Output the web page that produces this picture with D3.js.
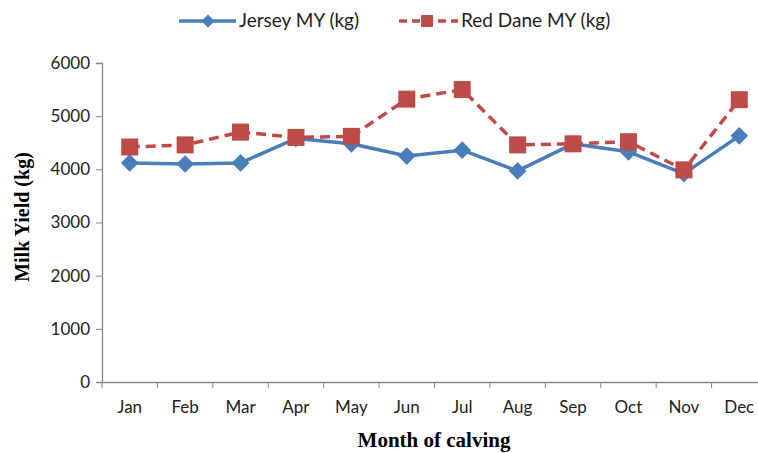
<!DOCTYPE html>
<html>
<head>
<meta charset="utf-8">
<script src="https://cdn.jsdelivr.net/npm/d3@7"></script>
<style>
  body { margin: 0; background: #fff; }
  svg { display: block; }
</style>
</head>
<body>
<script>
const months = ["Jan","Feb","Mar","Apr","May","Jun","Jul","Aug","Sep","Oct","Nov","Dec"];
const jersey = [4120, 4100, 4120, 4580, 4480, 4250, 4360, 3970, 4480, 4330, 3920, 4630];
const redDane = [4420, 4460, 4700, 4600, 4620, 5320, 5500, 4460, 4480, 4520, 3990, 5310];
const yTicks = [0, 1000, 2000, 3000, 4000, 5000, 6000];

const width = 758, height = 453;
const blue = "#4a7ebb", red = "#be4b48";
const font = "Lato, 'Open Sans', sans-serif";

const svg = d3.select("body").append("svg")
  .attr("width", width)
  .attr("height", height);

// scales
const x = d3.scaleBand().domain(months).range([102, 767]);
const y = d3.scaleLinear().domain([0, 6000]).range([382, 63]);

// y axis
const yAxis = svg.append("g")
  .attr("transform", "translate(102,0)")
  .call(d3.axisLeft(y).tickValues(yTicks).tickFormat(d3.format("d")).tickSize(6).tickPadding(6));
yAxis.selectAll("text").style("font-family", font).style("font-size", "17px").attr("fill", "#222");

// x axis
const xAxis = svg.append("g")
  .attr("transform", "translate(0,382)")
  .call(d3.axisBottom(x).tickSize(0).tickPadding(19));
xAxis.selectAll("text").style("font-family", font).style("font-size", "17px").attr("fill", "#222");
// band boundary ticks
xAxis.selectAll(".bt")
  .data(months)
  .enter().append("line")
  .attr("x1", d => x(d)).attr("x2", d => x(d))
  .attr("y1", 0).attr("y2", 6)
  .attr("stroke", "#888");

svg.selectAll(".domain").attr("stroke", "#888").attr("stroke-width", 1.3);
yAxis.selectAll(".tick line").attr("stroke", "#888");

// axis titles
svg.append("text")
  .attr("x", 434).attr("y", 447)
  .attr("text-anchor", "middle")
  .style("font-family", "'Liberation Serif', serif")
  .style("font-weight", "bold")
  .style("font-size", "21px")
  .text("Month of calving");

svg.append("text")
  .attr("transform", "translate(29,217) rotate(-90)")
  .attr("text-anchor", "middle")
  .style("font-family", "'Liberation Serif', serif")
  .style("font-weight", "bold")
  .style("font-size", "20px")
  .text("Milk Yield (kg)");

const cx = d => x(d) + x.bandwidth() / 2;

// series lines
const line = d3.line()
  .x((d, i) => cx(months[i]))
  .y(d => y(d));

svg.append("path")
  .datum(jersey)
  .attr("d", line)
  .attr("fill", "none")
  .attr("stroke", blue)
  .attr("stroke-width", 3.5)
  .attr("stroke-linejoin", "round");

svg.append("path")
  .datum(redDane)
  .attr("d", line)
  .attr("fill", "none")
  .attr("stroke", red)
  .attr("stroke-width", 3.5)
  .attr("stroke-dasharray", "10,6");

// markers
const diamond = d3.symbol().type(d3.symbolDiamond2).size(200);
svg.selectAll(".jm")
  .data(jersey)
  .enter().append("path")
  .attr("d", diamond)
  .attr("transform", (d, i) => `translate(${cx(months[i])},${y(d)})`)
  .attr("fill", blue);

svg.selectAll(".rm")
  .data(redDane)
  .enter().append("rect")
  .attr("x", (d, i) => cx(months[i]) - 8.5)
  .attr("y", d => y(d) - 8.5)
  .attr("width", 17).attr("height", 17)
  .attr("fill", red);

// legend
const lg = svg.append("g");
lg.append("line").attr("x1", 179).attr("x2", 236).attr("y1", 21).attr("y2", 21)
  .attr("stroke", blue).attr("stroke-width", 3.5);
lg.append("path").attr("d", d3.symbol().type(d3.symbolDiamond2).size(110))
  .attr("transform", "translate(208,21)").attr("fill", blue);
lg.append("text").attr("x", 239).attr("y", 27)
  .style("font-family", font).style("font-size", "19px").attr("fill", "#222")
  .text("Jersey MY (kg)");

lg.append("line").attr("x1", 399).attr("x2", 458).attr("y1", 21).attr("y2", 21)
  .attr("stroke", red).attr("stroke-width", 3.5).attr("stroke-dasharray", "8,5");
lg.append("rect").attr("x", 421).attr("y", 15).attr("width", 12).attr("height", 12)
  .attr("fill", red);
lg.append("text").attr("x", 461).attr("y", 27)
  .style("font-family", font).style("font-size", "19px").attr("fill", "#222")
  .text("Red Dane MY (kg)");
</script>
</body>
</html>
